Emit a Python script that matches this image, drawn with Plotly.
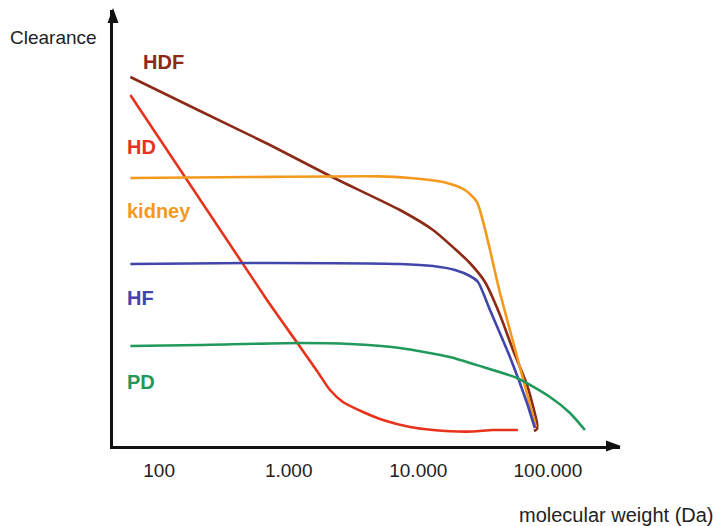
import plotly.graph_objects as go

# Molecular weight (Da) and relative clearance for each treatment mode
hdf_mw = [60, 207, 717, 2083, 7216, 12985, 19200, 25000, 32700, 42700, 53800, 69000, 78100, 82400, 82400, 78100]
hdf_cl = [92.25, 83.75, 75.25, 67.5, 59, 54, 49.25, 45.75, 41, 32.75, 24, 15.25, 9, 5.75, 4.25, 3.75]

hd_mw = [60, 680, 1180, 1654, 2083, 2624, 3745, 5340, 8630, 12985, 23760, 37710, 58700]
hd_cl = [87.75, 36.5, 25.5, 18.75, 14, 11, 8.5, 6.5, 4.75, 4, 3.6, 4, 4]

kidney_mw = [60, 503, 5058, 8630, 12310, 16650, 22930, 28350, 42700, 58700, 72800, 80930]
kidney_cl = [67, 67.25, 67.4, 67, 66.5, 65.75, 64, 61, 38.25, 21.5, 10.25, 4.75]

hf_mw = [60, 503, 7216, 12985, 19200, 25000, 28880, 35750, 50950, 69000, 76700, 79500]
hf_cl = [45.5, 45.75, 45.5, 45, 44, 42.5, 41, 34, 22.25, 10.75, 6, 4.5]

pd_mw = [60, 207, 1222, 2972, 7216, 17540, 31570, 57750, 103800, 148100, 193000]
pd_cl = [25, 25.25, 25.75, 25.5, 24.5, 22.25, 19.75, 17, 12.25, 8.25, 4]

tick_vals = [100, 1000, 10000, 100000]
tick_text = ["100", "1.000", "10.000", "100.000"]

series = [
    ("HDF", hdf_mw, hdf_cl, "#8C2A16"),
    ("HD", hd_mw, hd_cl, "#E8321C"),
    ("kidney", kidney_mw, kidney_cl, "#F39A1E"),
    ("HF", hf_mw, hf_cl, "#4146AA"),
    ("PD", pd_mw, pd_cl, "#20995A"),
]

W, H = 717, 526
L, R, T, B = 113, 620, 10, 446  # plot area in pixels


def px(x):
    return (x - L) / (R - L)


def py(y):
    return (B - y) / (B - T)


fig = go.Figure()
for name, xs, ys, col in series:
    fig.add_trace(go.Scatter(
        x=xs, y=ys, mode="lines", name=name,
        line=dict(color=col, width=2.6, shape="spline", smoothing=0.6),
        cliponaxis=False, showlegend=False, hoverinfo="skip",
    ))

font = "Liberation Sans, Arial, sans-serif"

# curve labels on the left
labels = [("HDF", 141, 62), ("HD", 125, 147), ("kidney", 125, 211), ("HF", 125, 298), ("PD", 125, 382)]
colors = {n: c for n, _, _, c in series}
annotations = []
for text, x, y in labels:
    annotations.append(dict(
        text=f"<b>{text}</b>", x=px(x), y=py(y), xref="paper", yref="paper",
        xanchor="left", yanchor="middle", showarrow=False,
        font=dict(family=font, size=20, color=colors[text]),
    ))

annotations.append(dict(
    text="Clearance", x=px(8), y=py(38), xref="paper", yref="paper",
    xanchor="left", yanchor="middle", showarrow=False,
    font=dict(family=font, size=19, color="#222222"),
))
annotations.append(dict(
    text="molecular weight (Da)", x=px(716), y=py(515), xref="paper", yref="paper",
    xanchor="right", yanchor="middle", showarrow=False,
    font=dict(family=font, size=20, color="#222222"),
))

# arrow heads on both axes
shapes = [
    dict(type="path", xref="paper", yref="paper",
         path=f"M {px(621)} {py(446)} L {px(606)} {py(440.5)} L {px(606)} {py(451.5)} Z",
         fillcolor="#111111", line=dict(width=0)),
    dict(type="path", xref="paper", yref="paper",
         path=f"M {px(113)} {py(8)} L {px(107.5)} {py(23)} L {px(118.5)} {py(23)} Z",
         fillcolor="#111111", line=dict(width=0)),
]

fig.update_layout(
    width=W, height=H,
    margin=dict(l=L, r=W - R, t=T, b=H - B),
    paper_bgcolor="white", plot_bgcolor="white",
    annotations=annotations, shapes=shapes,
    xaxis=dict(
        type="log", range=[2 + (L - 159.1) / 129.6, 2 + (R - 159.1) / 129.6],
        showgrid=False, zeroline=False, showline=True, linecolor="#111111", linewidth=3,
        tickvals=tick_vals, ticktext=tick_text, ticks="", ticklabelstandoff=5,
        tickfont=dict(family=font, size=19, color="#222222"),
    ),
    yaxis=dict(
        range=[0, (B - T) / 4], showgrid=False, zeroline=False, showline=True,
        linecolor="#111111", linewidth=3, showticklabels=False, ticks="",
    ),
)

fig.write_html("out.html")
